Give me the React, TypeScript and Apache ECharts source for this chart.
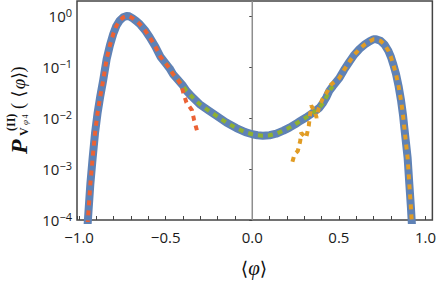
import React, { useEffect, useRef } from 'react';
import * as echarts from 'echarts';

// Full distribution (blue, thick)
const blueX = [-0.955, -0.945, -0.935, -0.922, -0.908, -0.893, -0.878, -0.861, -0.841, -0.822, -0.803, -0.785, -0.765, -0.745, -0.725, -0.71, -0.69, -0.67, -0.65, -0.62, -0.592, -0.56, -0.53, -0.5, -0.477, -0.458, -0.43, -0.4, -0.38, -0.35, -0.304, -0.25, -0.207, -0.15, -0.092, -0.04, 0.0, 0.03, 0.061, 0.1, 0.138, 0.18, 0.215, 0.25, 0.273, 0.311, 0.35, 0.388, 0.41, 0.427, 0.445, 0.465, 0.503, 0.53, 0.561, 0.59, 0.619, 0.65, 0.677, 0.7, 0.715, 0.74, 0.763, 0.785, 0.801, 0.815, 0.83, 0.845, 0.859, 0.87, 0.878, 0.888, 0.897, 0.907, 0.916, 0.922, 0.928];
const blueY = [5.0e-5, 1.6e-4, 5.0e-4, 1.6e-3, 5.0e-3, 1.26e-2, 2.6e-2, 5.4e-2, 0.141, 0.263, 0.437, 0.631, 0.813, 0.933, 0.989, 0.977, 0.891, 0.794, 0.692, 0.525, 0.38, 0.251, 0.158, 0.117, 0.0933, 0.0724, 0.0562, 0.0427, 0.0339, 0.0263, 0.0186, 0.0138, 0.011, 0.00813, 0.00631, 0.00525, 0.00479, 0.00457, 0.00447, 0.00457, 0.0049, 0.00562, 0.00646, 0.00759, 0.00851, 0.0102, 0.0126, 0.0158, 0.02, 0.0251, 0.0339, 0.0417, 0.0603, 0.0871, 0.126, 0.174, 0.224, 0.275, 0.316, 0.347, 0.347, 0.324, 0.275, 0.209, 0.155, 0.11, 0.0724, 0.0417, 0.0219, 0.0117, 0.00646, 0.00316, 0.00166, 5.0e-4, 1.78e-4, 7.9e-5, 3.2e-5];

// Left estimate (red-orange dotted)
const redX = [-0.955, -0.945, -0.935, -0.922, -0.908, -0.893, -0.878, -0.861, -0.841, -0.822, -0.803, -0.785, -0.765, -0.745, -0.725, -0.71, -0.69, -0.67, -0.65, -0.62, -0.592, -0.56, -0.53, -0.5, -0.477, -0.458, -0.43, -0.41, -0.396, -0.38, -0.348, -0.336, -0.319];
const redY = [5.0e-5, 1.6e-4, 5.0e-4, 1.6e-3, 5.0e-3, 1.26e-2, 2.6e-2, 5.4e-2, 0.141, 0.263, 0.437, 0.631, 0.813, 0.933, 0.989, 0.977, 0.891, 0.794, 0.692, 0.525, 0.38, 0.251, 0.158, 0.117, 0.0933, 0.0724, 0.0562, 0.0437, 0.0295, 0.02, 0.0141, 0.00912, 0.00562];

// Middle estimate (green dotted)
const greenX = [-0.5, -0.477, -0.458, -0.43, -0.4, -0.38, -0.35, -0.304, -0.25, -0.207, -0.15, -0.092, -0.04, 0.0, 0.03, 0.061, 0.1, 0.138, 0.18, 0.215, 0.25, 0.273, 0.311, 0.35, 0.388, 0.41, 0.427, 0.445, 0.465];
const greenY = [0.117, 0.0933, 0.0724, 0.0562, 0.0427, 0.0339, 0.0263, 0.0186, 0.0138, 0.011, 0.00813, 0.00631, 0.00525, 0.00479, 0.00457, 0.00447, 0.00457, 0.0049, 0.00562, 0.00646, 0.00759, 0.00851, 0.0102, 0.0126, 0.0158, 0.02, 0.0251, 0.0339, 0.0417];

// Right estimate (orange dotted)
const orangeX = [0.232, 0.244, 0.263, 0.277, 0.282, 0.311, 0.326, 0.34, 0.359, 0.372, 0.384, 0.407, 0.436, 0.455, 0.503, 0.53, 0.561, 0.59, 0.619, 0.65, 0.677, 0.7, 0.715, 0.74, 0.763, 0.785, 0.801, 0.815, 0.83, 0.845, 0.859, 0.87, 0.878, 0.888, 0.897, 0.907, 0.916, 0.922, 0.928];
const orangeY = [1.38e-3, 1.95e-3, 2.24e-3, 3.55e-3, 5.1e-3, 4.07e-3, 6.9e-3, 0.0174, 0.0138, 0.01, 0.0158, 0.024, 0.034, 0.045, 0.0603, 0.0871, 0.126, 0.174, 0.224, 0.275, 0.316, 0.347, 0.347, 0.324, 0.275, 0.209, 0.155, 0.11, 0.0724, 0.0417, 0.0219, 0.0117, 0.00646, 0.00316, 0.00166, 5.0e-4, 1.78e-4, 7.9e-5, 3.2e-5];

const zeroLineX = [0, 0];
const zeroLineY = [1e-4, 1.95];

const xMin = -1.012;
const xMax = 1.04;
const yMin = 1e-4;
const yMax = 1.95;

const pairs = (xs: number[], ys: number[]) => xs.map((x, i) => [x, ys[i]]);

export default function App() {
  const ref = useRef<HTMLDivElement>(null);
  useEffect(() => {
    const chart = echarts.init(ref.current!, null, { renderer: 'svg' });
    const tickFont = 'Open Sans';
    const labelColor = '#1a1a1a';
    const dotted = (color: string, xs: number[], ys: number[]) => ({
      type: 'line',
      data: pairs(xs, ys),
      showSymbol: false,
      symbol: 'none',
      silent: true,
      lineStyle: { color, width: 4, type: [5, 5], cap: 'butt' },
    });
    chart.setOption({
      animation: false,
      grid: {
        left: 77, right: 6, top: 1, bottom: 62,
        show: true, borderColor: '#444', borderWidth: 1.5, backgroundColor: 'transparent',
      },
      xAxis: {
        type: 'value', min: xMin, max: xMax, splitNumber: 4,
        axisLine: { show: false },
        axisTick: { show: true, inside: true, length: 4, lineStyle: { color: '#444', width: 1 } },
        minorTick: { show: true, splitNumber: 5, length: 4, lineStyle: { color: '#444', width: 1 } },
        splitLine: { show: false },
        axisLabel: {
          fontFamily: tickFont, fontSize: 15, color: labelColor, margin: 9,
          formatter: (v: number) => {
            if (Math.abs(v * 2 - Math.round(v * 2)) > 1e-6) return '';
            const s = Math.abs(v).toFixed(1);
            return v < -1e-9 ? '\u2212' + s : s;
          },
        },
      },
      yAxis: {
        type: 'log', logBase: 10, min: yMin, max: yMax,
        axisLine: { show: false },
        axisTick: { show: true, inside: false, length: 3, lineStyle: { color: '#444', width: 1 } },
        splitLine: { show: false },
        axisLabel: {
          margin: 5, showMaxLabel: false,
          formatter: (v: number) => {
            const e = Math.log10(v);
            const r = Math.round(e);
            if (Math.abs(e - r) > 1e-6) return '';
            const es = r < 0 ? '\u2212' + Math.abs(r) : String(r);
            return `{b|10}{s|${es}}`;
          },
          rich: {
            b: { fontFamily: tickFont, fontSize: 15, color: labelColor },
            s: { fontFamily: tickFont, fontSize: 11, color: labelColor, padding: [0, 0, 7, 0] },
          },
        },
      },
      series: [
        {
          type: 'line', data: pairs(zeroLineX, zeroLineY), showSymbol: false, symbol: 'none', silent: true,
          lineStyle: { color: '#8e8e8e', width: 1.5 },
        },
        {
          type: 'line', data: pairs(blueX, blueY), showSymbol: false, symbol: 'none', silent: true,
          lineStyle: { color: '#5f82b6', width: 8, cap: 'round', join: 'round' },
        },
        dotted('#8FB131', greenX, greenY),
        dotted('#EB6235', redX, redY),
        dotted('#E19C24', orangeX, orangeY),
      ],
      graphic: [
        {
          type: 'group', x: 26, y: 111, rotation: Math.PI / 2, silent: true,
          children: [
            { type: 'text', x: -43, y: -7, style: { text: 'P', font: 'italic bold 24px "Liberation Serif"', fill: '#111', align: 'left', verticalAlign: 'middle' } },
            { type: 'text', x: -20, y: -15, style: { text: '(II)', font: 'bold 12px "Liberation Serif"', fill: '#111', align: 'left', verticalAlign: 'middle' } },
            { type: 'text', x: -25, y: -2.5, style: { text: 'V', font: 'bold 12px "Liberation Serif"', fill: '#111', align: 'left', verticalAlign: 'middle' } },
            { type: 'text', x: -14, y: -1, style: { text: 'φ', font: 'italic 9px "Liberation Serif"', fill: '#111', align: 'left', verticalAlign: 'middle' } },
            { type: 'text', x: -7.5, y: -0.5, style: { text: '4', font: '8px "Liberation Serif"', fill: '#111', align: 'left', verticalAlign: 'middle' } },
            { type: 'text', x: 5, y: -8, style: { text: '(', font: '18px "Liberation Serif"', fill: '#111', align: 'center', verticalAlign: 'middle' } },
            { type: 'text', x: 17, y: -8, style: { text: '⟨', font: '18px "DejaVu Serif"', fill: '#111', align: 'center', verticalAlign: 'middle' } },
            { type: 'text', x: 27, y: -8, style: { text: 'φ', font: 'italic 19px "Liberation Serif"', fill: '#111', align: 'center', verticalAlign: 'middle' } },
            { type: 'text', x: 35.5, y: -8, style: { text: '⟩', font: '18px "DejaVu Serif"', fill: '#111', align: 'center', verticalAlign: 'middle' } },
            { type: 'text', x: 41.5, y: -8, style: { text: ')', font: '18px "Liberation Serif"', fill: '#111', align: 'center', verticalAlign: 'middle' } },
          ],
        },
        {
          type: 'text', x: 254, y: 268, silent: true,
          style: {
            text: '{a|⟨}{i|φ}{a|⟩}', align: 'center', verticalAlign: 'middle',
            rich: {
              a: { fontFamily: 'DejaVu Serif', fontSize: 19, fill: '#111', color: '#111' },
              i: { fontFamily: 'Liberation Serif', fontStyle: 'italic', fontSize: 21, fill: '#111', color: '#111' },
            },
          },
        },
      ],
    });
    return () => chart.dispose();
  }, []);
  return <div ref={ref} style={{ width: 439, height: 282, position: 'absolute', left: 0, top: 0 }} />;
}
